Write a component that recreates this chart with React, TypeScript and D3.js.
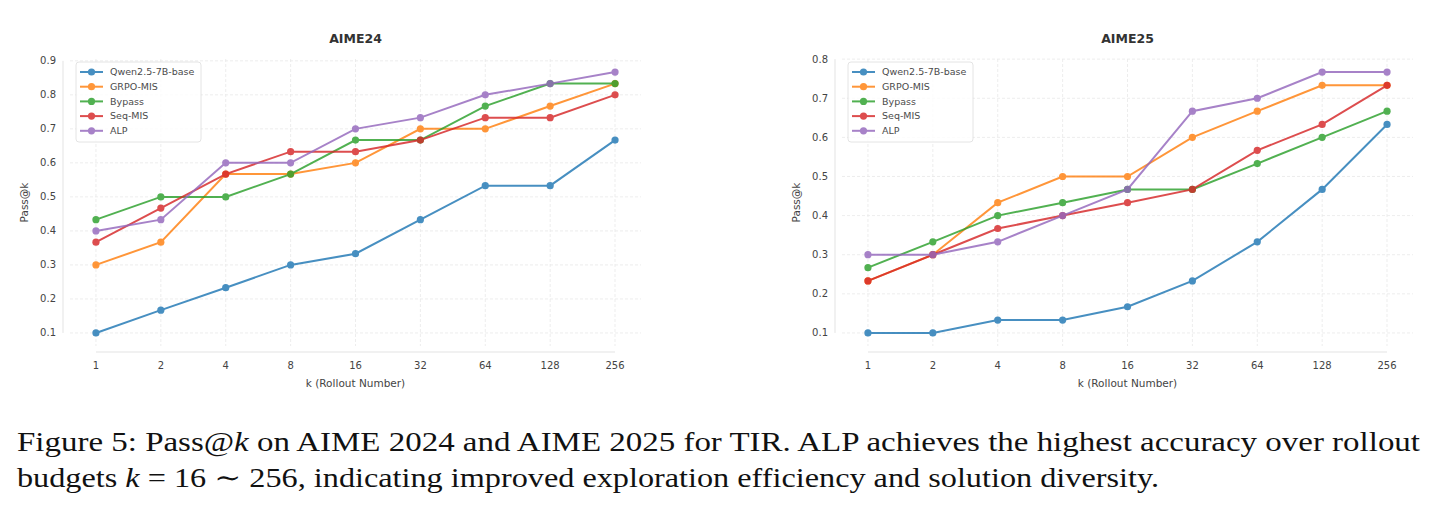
import React from 'react';
import * as d3 from 'd3';

// rollout budgets on the x axis
const kValues = ['1', '2', '4', '8', '16', '32', '64', '128', '256'];
const methods = ['Qwen2.5-7B-base', 'GRPO-MIS', 'Bypass', 'Seq-MIS', 'ALP'];
const colors = ['#1f77b4', '#ff7f0e', '#2ca02c', '#d62728', '#9467bd'];

// AIME24 pass@k
const aime24Qwen = [0.1, 0.167, 0.233, 0.3, 0.333, 0.433, 0.533, 0.533, 0.667];
const aime24Grpo = [0.3, 0.367, 0.567, 0.567, 0.6, 0.7, 0.7, 0.767, 0.833];
const aime24Bypass = [0.433, 0.5, 0.5, 0.567, 0.667, 0.667, 0.767, 0.833, 0.833];
const aime24Seq = [0.367, 0.467, 0.567, 0.633, 0.633, 0.667, 0.733, 0.733, 0.8];
const aime24Alp = [0.4, 0.433, 0.6, 0.6, 0.7, 0.733, 0.8, 0.833, 0.867];
const aime24Ticks = [0.1, 0.2, 0.3, 0.4, 0.5, 0.6, 0.7, 0.8, 0.9];

// AIME25 pass@k
const aime25Qwen = [0.1, 0.1, 0.133, 0.133, 0.167, 0.233, 0.333, 0.467, 0.633];
const aime25Grpo = [0.233, 0.3, 0.433, 0.5, 0.5, 0.6, 0.667, 0.733, 0.733];
const aime25Bypass = [0.267, 0.333, 0.4, 0.433, 0.467, 0.467, 0.533, 0.6, 0.667];
const aime25Seq = [0.233, 0.3, 0.367, 0.4, 0.433, 0.467, 0.567, 0.633, 0.733];
const aime25Alp = [0.3, 0.3, 0.333, 0.4, 0.467, 0.667, 0.7, 0.767, 0.767];
const aime25Ticks = [0.1, 0.2, 0.3, 0.4, 0.5, 0.6, 0.7, 0.8];

const FONT = '"DejaVu Sans", sans-serif';

interface PanelProps {
  title: string;
  series: number[][];
  yTicks: number[];
  left: number;
  right: number;
}

const Panel: React.FC<PanelProps> = ({ title, series, yTicks, left, right }) => {
  const top = 59;
  const bottom = 346;
  const x = d3.scalePoint<string>().domain(kValues).range([left, right]).padding(0.4);

  // matplotlib style 5% margins
  const lo = d3.min(series.flat()) ?? 0;
  const hi = d3.max(series.flat()) ?? 1;
  const pad = (hi - lo) * 0.05;
  const y = d3.scaleLinear().domain([lo - pad, hi + pad]).range([bottom, top]);

  const line = d3.line<number>()
    .x((_, i) => x(kValues[i]) ?? 0)
    .y(d => y(d));

  const spineX = left - 7;
  const spineY = bottom + 6;
  const cx = (left + right) / 2;

  return (
    <g>
      {/* grid */}
      {yTicks.map(t => (
        <line key={'gy' + t} x1={left} x2={right} y1={y(t)} y2={y(t)}
          stroke="#e8e8e8" strokeWidth={0.8} strokeDasharray="3,2" />
      ))}
      {kValues.map(k => (
        <line key={'gx' + k} x1={x(k)} x2={x(k)} y1={top} y2={bottom}
          stroke="#e8e8e8" strokeWidth={0.8} strokeDasharray="3,2" />
      ))}

      {/* trimmed spines */}
      <line x1={spineX} x2={spineX} y1={y(yTicks[0])} y2={y(yTicks[yTicks.length - 1])}
        stroke="#e3e3e3" strokeWidth={1} />
      <line x1={x(kValues[0])} x2={x(kValues[kValues.length - 1])} y1={spineY} y2={spineY}
        stroke="#e3e3e3" strokeWidth={1} />

      {/* tick labels */}
      {yTicks.map(t => (
        <text key={'ty' + t} x={spineX - 7} y={y(t)} dy="0.35em" textAnchor="end"
          fontFamily={FONT} fontSize={10} fill="#444">{d3.format('.1f')(t)}</text>
      ))}
      {kValues.map(k => (
        <text key={'tx' + k} x={x(k)} y={spineY + 17} textAnchor="middle"
          fontFamily={FONT} fontSize={10} fill="#444">{k}</text>
      ))}

      <text x={cx} y={387} textAnchor="middle" fontFamily={FONT} fontSize={10.5} fill="#444">
        k (Rollout Number)
      </text>
      <text transform={`translate(${left - 42},${(top + bottom) / 2}) rotate(-90)`}
        textAnchor="middle" fontFamily={FONT} fontSize={10.5} fill="#444">Pass@k</text>
      <text x={cx} y={43} textAnchor="middle" fontFamily={FONT} fontSize={12.5}
        fontWeight="bold" fill="#333">{title}</text>

      {/* series */}
      {series.map((s, i) => (
        <g key={methods[i]} opacity={0.82}>
          <path d={line(s) ?? ''} fill="none" stroke={colors[i]} strokeWidth={2} />
          {s.map((v, j) => (
            <circle key={j} cx={x(kValues[j])} cy={y(v)} r={3.6} fill={colors[i]} />
          ))}
        </g>
      ))}

      {/* legend */}
      <g transform={`translate(${left + 6},${top + 3})`}>
        <rect x={0} y={0} width={125} height={80} rx={3} fill="white" fillOpacity={0.8}
          stroke="#dddddd" strokeWidth={0.8} />
        {methods.map((m, i) => (
          <g key={m} transform={`translate(0,${10 + i * 14.7})`} opacity={0.82}>
            <line x1={4} x2={27} y1={0} y2={0} stroke={colors[i]} strokeWidth={2} />
            <circle cx={15.5} cy={0} r={3.6} fill={colors[i]} />
            <text x={34} y={0} dy="0.35em" fontFamily={FONT} fontSize={9.5} fill="#222"
              opacity={1 / 0.82}>{m}</text>
          </g>
        ))}
      </g>
    </g>
  );
};

export default function App() {
  const serif = '"Liberation Serif", "DejaVu Serif", serif';
  return (
    <svg width={1435} height={509} style={{ position: 'absolute', left: 0, top: 0, background: 'white' }}>
      <Panel title="AIME24" left={70} right={641} yTicks={aime24Ticks}
        series={[aime24Qwen, aime24Grpo, aime24Bypass, aime24Seq, aime24Alp]} />
      <Panel title="AIME25" left={842} right={1413} yTicks={aime25Ticks}
        series={[aime25Qwen, aime25Grpo, aime25Bypass, aime25Seq, aime25Alp]} />

      <text x={17} y={451} fontFamily={serif} fontSize={27} fill="#111"
        textLength={1403} lengthAdjust="spacingAndGlyphs">
        Figure 5: Pass@<tspan fontStyle="italic">k</tspan> on AIME 2024 and AIME 2025 for TIR. ALP achieves the highest accuracy over rollout
      </text>
      <text x={17} y={487} fontFamily={serif} fontSize={27} fill="#111"
        textLength={1142} lengthAdjust="spacingAndGlyphs">
        budgets <tspan fontStyle="italic">k</tspan> = 16 ∼ 256, indicating improved exploration efficiency and solution diversity.
      </text>
    </svg>
  );
}
